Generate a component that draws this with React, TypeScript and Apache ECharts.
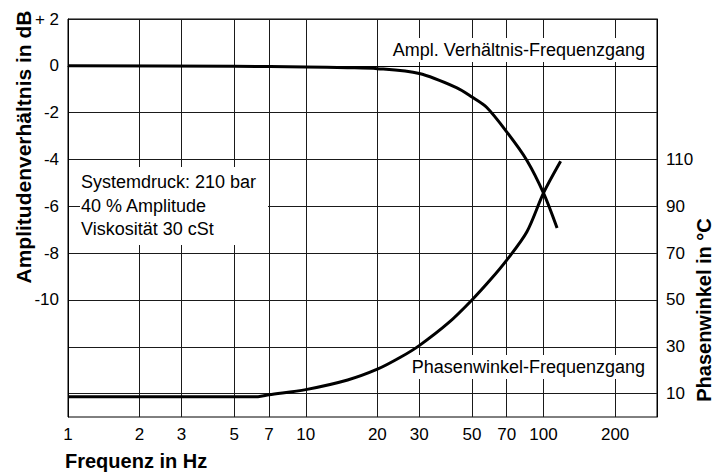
import React, { useEffect, useRef } from "react";
import * as echarts from "echarts";

const xTicks = [1, 2, 3, 5, 7, 10, 20, 30, 50, 70, 100, 200];
const leftTicks = [2, 0, -2, -4, -6, -8, -10, -12, -14];
const rightTicks = [10, 30, 50, 70, 90, 110];

// Amplitude ratio (dB) vs frequency (Hz)
const amplFreq = [1, 5, 10, 15, 20, 30, 43, 50, 57.6, 70, 85, 100, 114];
const amplDb = [0, -0.02, -0.05, -0.08, -0.12, -0.33, -0.93, -1.33, -1.77, -2.82, -4.03, -5.44, -6.93];

// Phase angle (°) vs frequency (Hz)
const phaseFreq = [1, 6.3, 7, 10, 15, 20, 25, 30, 40, 50, 60, 70, 85, 100, 118];
const phaseDeg = [8.7, 8.7, 9.5, 11.7, 15.8, 20.4, 25.5, 30.5, 40.4, 50, 58.8, 67, 79, 95.7, 109.2];

const infoLines = ["Systemdruck: 210 bar", "40 % Amplitude", "Viskosität 30 cSt"];

const FONT = "Liberation Sans, Arial, sans-serif";

export default function App() {
  const ref = useRef<HTMLDivElement>(null);
  useEffect(() => {
    if (!ref.current) return;
    const chart = echarts.init(ref.current, null, { renderer: "svg" });
    const gridColor = "#1a1a1a";
    chart.setOption({
      animation: false,
      backgroundColor: "#fff",
      textStyle: { fontFamily: FONT, color: "#000" },
      grid: {
        left: 68,
        right: 70,
        top: 19,
        bottom: 57,
        show: true,
        borderColor: "#000",
        borderWidth: 1,
        containLabel: false,
        outerBoundsMode: "none",
      },
      xAxis: {
        type: "log",
        logBase: 10,
        min: 1,
        max: 300,
        axisLine: { show: true, lineStyle: { color: "#000", width: 1 } },
        axisTick: { show: false, customValues: xTicks },
        axisLabel: {
          customValues: xTicks,
          fontSize: 17,
          color: "#000",
          margin: 9,
          fontFamily: FONT,
          formatter: (v: number) => String(Math.round(v)),
        },
        splitLine: { show: true, lineStyle: { color: gridColor, width: 1 } },
        minorSplitLine: { show: false },
      },
      yAxis: [
        {
          type: "value",
          min: -15,
          max: 2,
          axisLine: { show: true, lineStyle: { color: "#000", width: 1 } },
          axisTick: { show: false, customValues: leftTicks },
          axisLabel: {
            customValues: leftTicks,
            fontSize: 17,
            color: "#000",
            margin: 9,
            fontFamily: FONT,
            formatter: (v: number) => (v === 2 ? "+ 2" : v < -10 ? "" : String(v)),
          },
          splitLine: { show: true, lineStyle: { color: gridColor, width: 1 } },
        },
        {
          type: "value",
          min: 0,
          max: 170,
          position: "right",
          axisLine: { show: true, lineStyle: { color: "#000", width: 1 } },
          axisTick: { show: false, customValues: rightTicks },
          axisLabel: {
            customValues: rightTicks,
            fontSize: 17,
            color: "#000",
            margin: 9,
            fontFamily: FONT,
          },
          splitLine: { show: false },
        },
      ],
      series: [
        {
          name: "Ampl. Verhältnis-Frequenzgang",
          type: "line",
          yAxisIndex: 0,
          data: amplFreq.map((f, i) => [f, amplDb[i]]),
          showSymbol: false,
          smooth: 0.3,
          lineStyle: { color: "#000", width: 3 },
          z: 3,
        },
        {
          name: "Phasenwinkel-Frequenzgang",
          type: "line",
          yAxisIndex: 1,
          data: phaseFreq.map((f, i) => [f, phaseDeg[i]]),
          showSymbol: false,
          smooth: 0.3,
          lineStyle: { color: "#000", width: 3 },
          z: 3,
        },
      ],
      graphic: [
        {
          type: "rect",
          z: 1,
          shape: { x: 80, y: 167, width: 188, height: 78 },
          style: { fill: "#fff" },
        },
        ...infoLines.map((t, i) => ({
          type: "text",
          z: 2,
          x: 81,
          y: 182 + i * 23.5,
          style: {
            text: t,
            font: `18px ${FONT}`,
            fill: "#000",
            textAlign: "left",
            textVerticalAlign: "middle",
          },
        })),
        {
          type: "text",
          z: 2,
          x: 646,
          y: 50,
          style: {
            text: "Ampl. Verhältnis-Frequenzgang",
            font: `18px ${FONT}`,
            fill: "#000",
            textAlign: "right",
            textVerticalAlign: "middle",
            backgroundColor: "#fff",
            padding: [3, 1, 3, 2],
          },
        },
        {
          type: "text",
          z: 2,
          x: 646,
          y: 367,
          style: {
            text: "Phasenwinkel-Frequenzgang",
            font: `18px ${FONT}`,
            fill: "#000",
            textAlign: "right",
            textVerticalAlign: "middle",
            backgroundColor: "#fff",
            padding: [3, 1, 3, 2],
          },
        },
        {
          type: "text",
          x: 65,
          y: 461,
          style: {
            text: "Frequenz in Hz",
            font: `bold 20px ${FONT}`,
            fill: "#000",
            textAlign: "left",
            textVerticalAlign: "middle",
          },
        },
        {
          type: "text",
          x: 23,
          y: 147,
          rotation: Math.PI / 2,
          style: {
            text: "Amplitudenverhältnis in dB",
            font: `bold 21px ${FONT}`,
            fill: "#000",
            textAlign: "center",
            textVerticalAlign: "middle",
          },
        },
        {
          type: "text",
          x: 704,
          y: 310,
          rotation: Math.PI / 2,
          style: {
            text: "Phasenwinkel in °C",
            font: `bold 20px ${FONT}`,
            fill: "#000",
            textAlign: "center",
            textVerticalAlign: "middle",
          },
        },
      ],
    });
    return () => chart.dispose();
  }, []);
  return (
    <div
      ref={ref}
      style={{ position: "fixed", left: 0, top: 0, width: 727, height: 474 }}
    />
  );
}
